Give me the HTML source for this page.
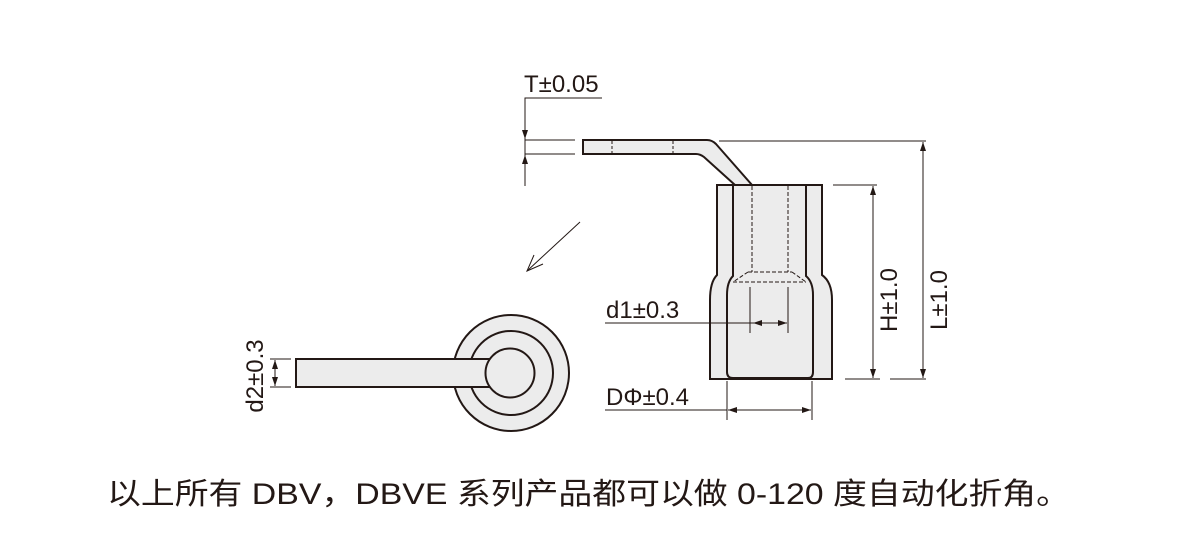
<!DOCTYPE html>
<html><head><meta charset="utf-8"><style>
html,body{margin:0;padding:0;background:#fff;width:1200px;height:550px;overflow:hidden}
svg{display:block}
text{font-family:"Liberation Sans",sans-serif;fill:#231815}
</style></head><body>
<svg width="1200" height="550" viewBox="0 0 1200 550" xmlns="http://www.w3.org/2000/svg">
<defs>
<marker id="a" markerWidth="10" markerHeight="8" refX="9" refY="4" orient="auto" markerUnits="userSpaceOnUse"><path d="M0,1 L9,4 L0,7 Z" fill="#231815"/></marker>
</defs>
<g stroke="#231815" fill="none">
<path d="M583,140 L707,140 Q712,140 716,144 L752,185 L735,185 L704,157 Q700,154 696,154 L583,154 Z" fill="#ececec" stroke-width="2"/>
<line x1="612" y1="141" x2="612" y2="153" stroke-dasharray="3,2"/>
<line x1="673" y1="141" x2="673" y2="153" stroke-dasharray="3,2"/>
<path d="M717,185 L822,185 L822,275 Q832,282 832,300 L832,379 L710,379 L710,300 Q710,282 717,275 Z" fill="#ececec" stroke-width="2"/>
<path d="M733,185 L733,276 Q727,282 727,295 L727,372 Q727,378 733,378 L808,378 Q813,378 813,372 L813,295 Q813,282 806,276 L806,185" stroke-width="2"/>
<g stroke-dasharray="4,2" stroke-width="1">
<line x1="752" y1="186" x2="752" y2="272"/><line x1="788" y1="186" x2="788" y2="272"/>
<line x1="748" y1="272" x2="792" y2="272"/><line x1="733" y1="282" x2="806" y2="282"/>
<line x1="748" y1="272" x2="733" y2="282"/><line x1="792" y1="272" x2="806" y2="282"/>
</g>
<line x1="750" y1="287" x2="750" y2="333"/><line x1="788" y1="287" x2="788" y2="333"/>
<line x1="605" y1="323" x2="752" y2="323"/>
<line x1="752" y1="323" x2="787" y2="323" marker-end="url(#a)"/>
<line x1="787" y1="323" x2="753" y2="323" marker-end="url(#a)"/>
<line x1="727" y1="381" x2="727" y2="420"/><line x1="812" y1="381" x2="812" y2="420"/>
<line x1="605" y1="410" x2="727" y2="410"/>
<line x1="770" y1="410" x2="728" y2="410" marker-end="url(#a)"/>
<line x1="770" y1="410" x2="811" y2="410" marker-end="url(#a)"/>
<line x1="833" y1="185" x2="877" y2="185"/><line x1="845" y1="379" x2="880" y2="379"/>
<line x1="873" y1="280" x2="873" y2="186" marker-end="url(#a)"/>
<line x1="873" y1="280" x2="873" y2="378" marker-end="url(#a)"/>
<line x1="719" y1="141" x2="926" y2="141"/><line x1="890" y1="379" x2="926" y2="379"/>
<line x1="923" y1="260" x2="923" y2="142" marker-end="url(#a)"/>
<line x1="923" y1="260" x2="923" y2="378" marker-end="url(#a)"/>
<polyline points="602,98 525,98 525,186"/>
<line x1="525" y1="140" x2="575" y2="140"/><line x1="525" y1="154" x2="575" y2="154"/>
<line x1="525" y1="110" x2="525" y2="139" marker-end="url(#a)"/>
<line x1="525" y1="180" x2="525" y2="155" marker-end="url(#a)"/>
<line x1="580" y1="222" x2="527" y2="271"/>
<polyline points="534,255 527,271 543,264"/>
<circle cx="511" cy="373" r="58" fill="#ececec" stroke-width="2"/>
<circle cx="511" cy="373" r="42" stroke-width="2"/>
<rect x="296" y="359" width="194" height="28" fill="#ececec" stroke-width="2"/>
<circle cx="510" cy="373" r="24.5" fill="#ececec" stroke-width="2"/>
<line x1="270" y1="359" x2="291" y2="359"/><line x1="270" y1="387" x2="291" y2="387"/>
<line x1="275" y1="373" x2="275" y2="360" marker-end="url(#a)"/>
<line x1="275" y1="373" x2="275" y2="386" marker-end="url(#a)"/>
</g>
<text x="524" y="92" font-size="24">T±0.05</text>
<text x="606" y="318" font-size="24">d1±0.3</text>
<text x="606" y="405" font-size="24">DΦ±0.4</text>
<text transform="translate(897,300) rotate(-90)" font-size="24" text-anchor="middle">H±1.0</text>
<text transform="translate(947,300) rotate(-90)" font-size="24" text-anchor="middle">L±1.0</text>
<text transform="translate(263,376) rotate(-90)" font-size="24" text-anchor="middle">d2±0.3</text>
<text x="107" y="504" font-size="30" textLength="963" lengthAdjust="spacingAndGlyphs" style="font-family:'Liberation Sans','Noto Sans CJK SC',sans-serif">以上所有 DBV，DBVE 系列产品都可以做 0-120 度自动化折角。</text>
</svg>
</body></html>
